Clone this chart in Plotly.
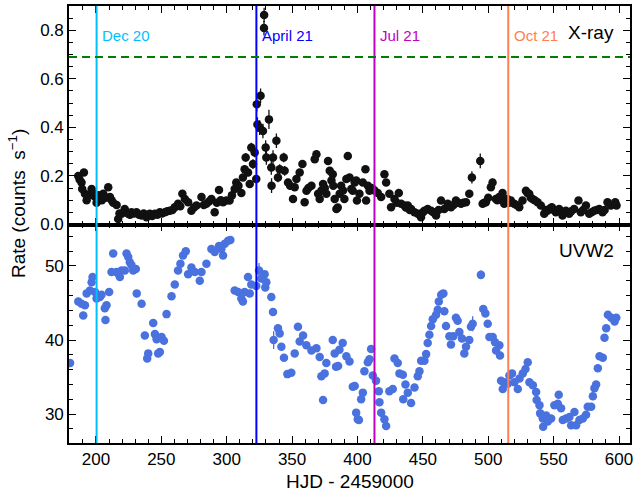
import plotly.graph_objects as go
from plotly.subplots import make_subplots

# ---------------- data ----------------
xray_day = [
    186.5, 187.5, 189.0, 189.5, 190.8, 191.6, 192.9, 194.5, 196.7, 198.0,
    199.0, 200.5, 202.0, 203.0, 204.5, 205.6, 207.5, 209.4, 210.7, 212.0,
    213.2, 215.8, 217.0, 218.0, 219.6, 222.0, 223.5, 224.7, 226.0, 227.2,
    229.0, 231.0, 233.0, 234.9, 236.5, 238.7, 240.0, 241.2, 243.0, 245.0,
    247.0, 248.9, 250.5, 252.7, 254.5, 256.5, 258.5, 260.3, 262.8, 264.5,
    266.1, 268.0, 270.5, 273.0, 275.0, 276.9, 280.7, 282.5, 284.5, 286.5,
    288.3, 290.8, 292.5, 294.1, 295.5, 297.2, 299.7, 302.2, 304.0, 306.1,
    307.3, 309.0, 311.2, 312.4, 313.7, 314.5, 316.3, 317.6, 318.8, 320.1,
    321.4, 322.6, 323.0, 323.5, 325.2, 325.9, 327.7, 328.5, 328.6, 329.8,
    330.3, 332.3, 334.1, 334.3, 335.4, 338.0, 339.2, 340.5, 343.6, 344.3,
    346.9, 348.5, 350.7, 352.0, 353.3, 355.8, 357.9, 359.6, 361.0, 362.5,
    364.8, 367.3, 368.6, 369.9, 371.1, 372.5, 373.7, 375.0, 376.2, 377.5,
    378.8, 380.1, 381.1, 381.5, 382.6, 383.9, 384.9, 386.4, 387.5, 389.0,
    390.0, 391.5, 392.6, 393.9, 395.3, 396.4, 397.9, 399.0, 399.6, 401.5,
    404.1, 406.1, 406.6, 408.0, 409.2, 410.5, 411.7, 413.0, 415.5, 418.1,
    420.6, 421.9, 424.4, 425.7, 428.3, 430.0, 431.6, 433.4, 435.9, 437.0,
    438.5, 440.0, 441.0, 443.6, 446.1, 448.6, 450.0, 451.2, 453.7, 456.3,
    458.0, 460.1, 462.0, 463.9, 466.4, 469.0, 471.5, 473.5, 475.3, 477.0,
    479.2, 481.0, 483.0, 485.5, 487.5, 493.9, 495.7, 497.0, 498.2, 500.0,
    502.0, 503.3, 505.8, 507.0, 508.4, 510.9, 512.2, 513.5, 514.7, 516.0,
    517.3, 519.8, 521.5, 523.7, 526.2, 528.8, 530.0, 531.3, 532.5, 533.9,
    535.5, 537.7, 540.2, 542.8, 544.0, 545.3, 547.0, 548.6, 550.0, 551.7,
    553.0, 554.2, 556.8, 558.0, 559.3, 561.9, 563.5, 565.7, 569.0, 570.8,
    572.5, 574.7, 577.2, 579.0, 581.0, 583.0, 584.9, 587.4, 589.0, 591.2,
    593.8, 597.1, 598.1,
]
xray_rate = [
    0.200, 0.185, 0.173, 0.146, 0.214, 0.127, 0.100, 0.120, 0.146, 0.130,
    0.115, 0.090, 0.120, 0.113, 0.100, 0.127, 0.110, 0.153, 0.113, 0.100,
    0.090, 0.080, 0.023, 0.045, 0.044, 0.064, 0.050, 0.044, 0.040, 0.050,
    0.045, 0.050, 0.040, 0.037, 0.045, 0.030, 0.040, 0.044, 0.035, 0.044,
    0.040, 0.050, 0.045, 0.050, 0.055, 0.057, 0.060, 0.071, 0.085, 0.075,
    0.127, 0.105, 0.092, 0.057, 0.070, 0.078, 0.113, 0.080, 0.085, 0.095,
    0.105, 0.050, 0.090, 0.142, 0.100, 0.092, 0.099, 0.099, 0.120, 0.146,
    0.173, 0.160, 0.130, 0.194, 0.228, 0.276, 0.214, 0.167, 0.317, 0.249,
    0.297, 0.187, 0.495, 0.412, 0.399, 0.530, 0.385, 0.809, 0.863, 0.317,
    0.276, 0.433, 0.235, 0.160, 0.276, 0.345, 0.194, 0.228, 0.276, 0.221,
    0.173, 0.160, 0.105, 0.153, 0.187, 0.214, 0.249, 0.092, 0.139, 0.150,
    0.160, 0.269, 0.289, 0.127, 0.105, 0.140, 0.167, 0.150, 0.127, 0.262,
    0.221, 0.181, 0.207, 0.160, 0.105, 0.064, 0.070, 0.127, 0.160, 0.140,
    0.105, 0.187, 0.282, 0.194, 0.146, 0.139, 0.173, 0.181, 0.099, 0.127,
    0.173, 0.228, 0.099, 0.160, 0.139, 0.150, 0.146, 0.140, 0.130, 0.113,
    0.207, 0.173, 0.127, 0.071, 0.105, 0.090, 0.130, 0.085, 0.078, 0.070,
    0.078, 0.060, 0.064, 0.050, 0.044, 0.030, 0.050, 0.057, 0.064, 0.057,
    0.050, 0.037, 0.060, 0.099, 0.064, 0.085, 0.071, 0.080, 0.099, 0.090,
    0.085, 0.090, 0.092, 0.127, 0.194, 0.262, 0.085, 0.090, 0.092, 0.110,
    0.153, 0.173, 0.105, 0.100, 0.113, 0.130, 0.085, 0.100, 0.105, 0.090,
    0.099, 0.085, 0.080, 0.071, 0.099, 0.139, 0.130, 0.127, 0.110, 0.105,
    0.100, 0.092, 0.078, 0.044, 0.060, 0.057, 0.065, 0.071, 0.060, 0.050,
    0.058, 0.064, 0.037, 0.050, 0.057, 0.044, 0.055, 0.064, 0.099, 0.050,
    0.060, 0.078, 0.044, 0.050, 0.057, 0.060, 0.064, 0.050, 0.060, 0.092,
    0.078, 0.092, 0.078,
]
xray_err = [
    0.010, 0.010, 0.010, 0.010, 0.012, 0.010, 0.010, 0.010, 0.010, 0.010,
    0.010, 0.010, 0.010, 0.010, 0.010, 0.010, 0.010, 0.012, 0.010, 0.010,
    0.010, 0.010, 0.008, 0.008, 0.008, 0.008, 0.008, 0.008, 0.008, 0.008,
    0.008, 0.008, 0.008, 0.008, 0.008, 0.008, 0.008, 0.008, 0.008, 0.008,
    0.008, 0.008, 0.008, 0.008, 0.008, 0.009, 0.009, 0.009, 0.009, 0.009,
    0.010, 0.010, 0.010, 0.010, 0.010, 0.010, 0.010, 0.010, 0.010, 0.010,
    0.010, 0.010, 0.010, 0.012, 0.010, 0.010, 0.010, 0.010, 0.010, 0.010,
    0.012, 0.012, 0.012, 0.015, 0.015, 0.018, 0.015, 0.015, 0.020, 0.020,
    0.020, 0.015, 0.030, 0.030, 0.030, 0.030, 0.030, 0.030, 0.030, 0.030,
    0.030, 0.040, 0.030, 0.030, 0.030, 0.030, 0.020, 0.020, 0.020, 0.020,
    0.015, 0.015, 0.015, 0.015, 0.015, 0.015, 0.015, 0.015, 0.015, 0.015,
    0.012, 0.015, 0.015, 0.012, 0.012, 0.012, 0.012, 0.012, 0.012, 0.015,
    0.012, 0.012, 0.012, 0.012, 0.012, 0.012, 0.012, 0.012, 0.012, 0.012,
    0.012, 0.012, 0.012, 0.012, 0.012, 0.012, 0.012, 0.012, 0.012, 0.012,
    0.012, 0.012, 0.012, 0.012, 0.012, 0.012, 0.012, 0.012, 0.012, 0.012,
    0.012, 0.012, 0.010, 0.010, 0.010, 0.010, 0.010, 0.010, 0.010, 0.010,
    0.008, 0.008, 0.008, 0.008, 0.008, 0.008, 0.008, 0.008, 0.008, 0.008,
    0.008, 0.008, 0.008, 0.008, 0.008, 0.008, 0.008, 0.008, 0.008, 0.008,
    0.008, 0.008, 0.008, 0.015, 0.025, 0.030, 0.010, 0.010, 0.010, 0.010,
    0.015, 0.015, 0.010, 0.010, 0.010, 0.010, 0.010, 0.010, 0.010, 0.010,
    0.010, 0.010, 0.010, 0.010, 0.010, 0.010, 0.010, 0.010, 0.010, 0.010,
    0.008, 0.008, 0.008, 0.008, 0.008, 0.008, 0.008, 0.008, 0.008, 0.008,
    0.008, 0.008, 0.008, 0.008, 0.008, 0.008, 0.008, 0.008, 0.008, 0.008,
    0.008, 0.008, 0.008, 0.008, 0.008, 0.008, 0.008, 0.008, 0.008, 0.008,
    0.008, 0.008, 0.008,
]

uvw2_day = [
    180.2, 186.5, 189.0, 190.3, 191.6, 192.9, 195.4, 196.7, 197.4, 199.3,
    200.5, 203.0, 204.3, 206.8, 207.3, 208.1, 210.1, 211.9, 213.2, 215.8,
    217.0, 218.3, 219.6, 222.1, 223.4, 224.7, 225.9, 227.2, 228.5, 230.5,
    231.2, 234.9, 237.4, 239.2, 240.0, 243.8, 245.1, 246.4, 247.6, 248.9,
    250.2, 252.0, 254.0, 257.8, 260.3, 262.8, 264.6, 266.6, 268.7, 270.5,
    273.0, 275.6, 279.4, 280.7, 284.5, 288.3, 290.8, 294.1, 295.9, 297.2,
    298.5, 301.0, 302.8, 306.1, 308.7, 311.2, 312.4, 313.7, 316.3, 317.6,
    318.8, 322.6, 324.7, 326.5, 329.0, 329.5, 330.3, 334.1, 335.4, 335.9,
    339.2, 340.5, 341.8, 343.8, 346.4, 349.4, 352.0, 354.5, 355.8, 358.4,
    360.9, 364.8, 368.6, 371.1, 372.4, 373.7, 374.9, 376.2, 381.1, 382.6,
    383.6, 385.2, 386.2, 388.7, 391.5, 393.9, 396.4, 397.9, 399.0, 400.2,
    401.1, 402.8, 404.1, 405.3, 407.9, 409.2, 410.4, 411.7, 414.2, 416.3,
    416.8, 418.1, 420.6, 421.9, 424.4, 427.0, 428.3, 430.8, 432.1, 434.7,
    435.0, 436.7, 438.5, 441.0, 443.6, 446.1, 447.4, 448.7, 451.2, 452.5,
    453.7, 455.0, 456.3, 457.6, 460.1, 461.4, 462.2, 464.0, 465.7, 466.4,
    467.7, 470.3, 471.5, 473.3, 475.3, 476.6, 477.9, 479.9, 481.7, 483.0,
    485.5, 486.8, 488.1, 494.4, 496.2, 497.8, 499.6, 500.9, 503.4, 505.2,
    506.0, 508.5, 509.0, 509.8, 511.1, 512.4, 514.9, 516.2, 518.2, 520.0,
    522.6, 523.9, 526.4, 528.5, 530.2, 531.5, 534.1, 536.6, 537.0, 539.2,
    539.7, 541.7, 542.0, 544.3, 545.5, 548.1, 550.6, 553.2, 553.9, 555.7,
    557.0, 559.5, 562.1, 563.4, 565.9, 567.2, 569.7, 572.3, 574.8, 576.1,
    578.7, 580.0, 581.2, 582.5, 583.8, 585.1, 587.6, 588.9, 590.2, 591.5,
    594.0, 596.6, 597.9,
]
uvw2_rate = [
    36.9, 45.2, 44.9, 43.3, 44.7, 46.3, 46.7, 47.8, 48.5, 46.5,
    45.6, 45.8, 46.1, 44.3, 42.7, 44.7, 46.5, 49.2, 51.7, 49.2,
    49.0, 48.5, 49.4, 49.4, 51.7, 51.2, 50.5, 50.1, 49.4, 49.6,
    46.3, 44.9, 40.6, 37.5, 38.2, 42.3, 40.8, 40.1, 38.2, 38.4,
    40.4, 39.9, 43.5, 45.9, 47.5, 49.4, 50.3, 51.4, 52.0, 48.9,
    49.8, 49.2, 48.0, 49.2, 50.3, 52.3, 51.9, 52.7, 52.3, 51.4,
    53.0, 53.4, 53.5, 46.7, 46.5, 45.6, 45.2, 46.5, 48.5, 46.3,
    47.5, 47.3, 49.4, 48.3, 48.9, 47.1, 47.8, 45.8, 43.8, 40.0,
    41.6, 40.9, 39.1, 37.6, 35.4, 35.6, 38.2, 41.8, 39.8, 40.6,
    39.3, 38.6, 38.9, 37.7, 35.1, 31.9, 35.5, 36.9, 40.0, 38.2,
    36.4, 36.5, 38.7, 39.6, 37.8, 37.1, 33.7, 33.8, 30.2, 29.3,
    29.2, 32.0, 32.9, 35.8, 37.0, 37.4, 38.8, 35.2, 34.5, 33.1,
    31.6, 30.2, 29.3, 28.4, 33.1, 33.4, 37.5, 36.9, 35.5, 35.3,
    32.0, 34.0, 32.9, 31.5, 33.6, 35.1, 35.8, 37.2, 37.2, 38.1,
    39.6, 40.7, 41.9, 42.8, 43.4, 44.1, 45.2, 46.1, 46.3, 43.9,
    41.9, 40.5, 39.4, 40.5, 43.0, 42.6, 41.1, 40.2, 38.2, 39.1,
    40.0, 41.8, 42.2, 48.8, 44.2, 43.6, 42.2, 40.4, 40.4, 39.7,
    38.6, 39.3, 37.9, 34.5, 33.4, 34.3, 34.1, 35.2, 35.5, 34.3,
    33.4, 34.8, 35.5, 36.1, 37.0, 34.3, 33.9, 33.0, 31.9, 31.2,
    30.1, 29.4, 28.3, 29.8, 29.0, 29.4, 31.2, 31.4, 32.6, 30.8,
    29.2, 29.4, 29.6, 28.5, 30.3, 28.5, 29.2, 29.4, 29.9, 31.0,
    31.0, 32.4, 33.5, 34.0, 36.2, 37.8, 37.6, 40.3, 41.6, 43.4,
    43.0, 42.5, 43.0,
]
uvw2_err = [
    0.3, 0.3, 0.3, 0.3, 0.3, 0.3, 0.3, 0.3, 0.3, 0.3,
    0.3, 0.3, 0.3, 0.3, 0.3, 0.3, 0.3, 0.3, 0.3, 0.3,
    0.3, 0.3, 0.3, 0.3, 0.3, 0.3, 0.3, 0.3, 0.3, 0.3,
    0.3, 0.3, 0.3, 0.3, 0.3, 0.3, 0.3, 0.3, 0.3, 0.3,
    0.3, 0.3, 0.3, 0.3, 0.3, 0.3, 0.3, 0.3, 0.3, 0.3,
    0.3, 0.3, 0.3, 0.3, 0.3, 0.3, 0.3, 0.3, 0.3, 0.3,
    0.3, 0.3, 0.3, 0.3, 0.3, 0.3, 0.3, 0.3, 0.3, 0.3,
    0.3, 0.3, 1.0, 0.5, 0.4, 0.3, 0.4, 0.4, 0.5, 1.2,
    0.4, 0.4, 0.3, 0.3, 0.3, 0.3, 0.3, 0.3, 0.3, 0.3,
    0.3, 0.3, 0.3, 0.3, 0.3, 0.3, 0.3, 0.3, 0.3, 0.3,
    0.3, 0.3, 0.3, 0.3, 0.3, 0.3, 0.3, 0.3, 0.3, 0.3,
    0.3, 0.3, 0.3, 0.3, 0.3, 0.3, 0.3, 0.3, 0.3, 0.3,
    0.3, 0.3, 0.3, 0.3, 0.3, 0.3, 0.3, 0.3, 0.3, 0.3,
    0.3, 0.3, 0.3, 0.3, 0.3, 0.3, 0.3, 0.3, 0.3, 0.3,
    0.3, 0.3, 0.3, 0.3, 0.3, 0.3, 0.3, 0.3, 0.3, 0.3,
    0.3, 0.3, 0.3, 0.3, 0.3, 0.3, 0.3, 0.3, 0.3, 0.3,
    0.3, 0.3, 1.0, 0.6, 0.4, 0.3, 0.3, 0.3, 0.3, 0.3,
    0.3, 0.3, 0.3, 0.3, 0.3, 0.3, 0.3, 0.3, 0.3, 0.3,
    0.3, 0.3, 0.3, 0.3, 0.3, 0.3, 0.3, 0.3, 0.3, 0.3,
    0.3, 0.3, 0.3, 0.3, 0.3, 0.3, 0.3, 0.3, 0.3, 0.3,
    0.3, 0.3, 0.3, 0.3, 0.3, 0.3, 0.3, 0.3, 0.3, 0.3,
    0.3, 0.3, 0.3, 0.3, 0.3, 0.3, 0.3, 0.3, 0.3, 0.3,
    0.3, 0.3, 0.3,
]

epoch_labels = ["Dec 20", "April 21", "Jul 21", "Oct 21"]
epoch_days = [200.5, 322.7, 413.0, 515.3]
epoch_colors = ["#00BFFF", "#0000FF", "#BF00BF", "#FF7F50"]
threshold_rate = 0.69

x_range = [179.4, 608.4]
xray_range = [0.0, 0.90]
uvw2_range = [26.1, 55.6]

FONT = "Liberation Sans, Arial, Helvetica, sans-serif"

fig = make_subplots(rows=2, cols=1, shared_xaxes=True, vertical_spacing=0)

fig.add_trace(go.Scatter(
    x=xray_day, y=xray_rate, mode="markers",
    marker=dict(color="#111111", size=8.5),
    error_y=dict(type="data", array=xray_err, color="#111111", thickness=1.3, width=0),
    showlegend=False), row=1, col=1)

fig.add_trace(go.Scatter(
    x=uvw2_day, y=uvw2_rate, mode="markers",
    marker=dict(color="#4A72DF", size=8.5),
    error_y=dict(type="data", array=uvw2_err, color="#4A72DF", thickness=1.3, width=0),
    showlegend=False), row=2, col=1)

# vertical epoch lines spanning both panels
for d, c in zip(epoch_days, epoch_colors):
    fig.add_shape(type="line", xref="x", yref="paper", x0=d, x1=d, y0=0, y1=1,
                  line=dict(color=c, width=2), layer="above")

# dashed threshold in X-ray panel
fig.add_shape(type="line", xref="x domain", yref="y", x0=0, x1=1,
              y0=threshold_rate, y1=threshold_rate,
              line=dict(color="#008000", width=1.8, dash="8px,5px"))

for lab, d, c in zip(epoch_labels, epoch_days, epoch_colors):
    fig.add_annotation(x=d + 2.5, y=0.78, xref="x", yref="y", text=lab,
                       showarrow=False, xanchor="left", yanchor="middle",
                       font=dict(size=15, color=c, family=FONT))

fig.add_annotation(x=0.975, y=0.877, xref="x domain", yref="y domain", text="X-ray",
                   showarrow=False, xanchor="right", yanchor="middle",
                   font=dict(size=19, color="black", family=FONT))
fig.add_annotation(x=0.975, y=0.881, xref="x2 domain", yref="y2 domain", text="UVW2",
                   showarrow=False, xanchor="right", yanchor="middle",
                   font=dict(size=19, color="black", family=FONT))

fig.add_annotation(x=-0.0925, y=0.547, xref="paper", yref="paper",
                   text="Rate (counts\u00a0\u00a0s<sup>\u22121</sup>)", textangle=-90,
                   showarrow=False, xanchor="center", yanchor="middle",
                   font=dict(size=19, color="black", family=FONT))
fig.add_annotation(x=0.5, y=-0.089, xref="paper", yref="paper",
                   text="HJD - 2459000", showarrow=False,
                   xanchor="center", yanchor="middle",
                   font=dict(size=19, color="black", family=FONT))

axis_common = dict(showline=True, linecolor="black", linewidth=1.6, mirror="ticks",
                   ticks="inside", ticklen=7, tickwidth=1.3, tickcolor="black",
                   showgrid=False, zeroline=False,
                   tickfont=dict(size=17, color="black", family=FONT))

fig.update_xaxes(range=x_range, dtick=50, tick0=0,
                 minor=dict(ticks="inside", ticklen=4, dtick=10, tickcolor="black", tickwidth=1),
                 **axis_common)
fig.update_xaxes(showticklabels=False, row=1, col=1)
fig.update_yaxes(range=xray_range, dtick=0.2, tickformat=".1f",
                 minor=dict(ticks="inside", ticklen=4, dtick=0.05, tickcolor="black", tickwidth=1),
                 row=1, col=1, **axis_common)
fig.update_yaxes(range=uvw2_range, dtick=10,
                 minor=dict(ticks="inside", ticklen=4, dtick=2, tickcolor="black", tickwidth=1),
                 row=2, col=1, **axis_common)

fig.update_layout(width=637, height=493,
                  margin=dict(l=69, r=6, t=4, b=50),
                  plot_bgcolor="white", paper_bgcolor="white",
                  font=dict(family=FONT, color="black"))

fig.write_html("out.html", config={"displayModeBar": False},
               post_script="document.body.style.margin='0px';document.body.style.padding='0px';")
